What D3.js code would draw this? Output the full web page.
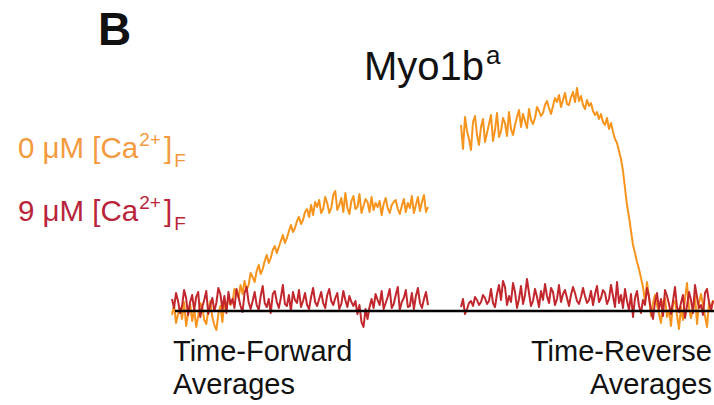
<!DOCTYPE html>
<html>
<head>
<meta charset="utf-8">
<script src="https://cdn.jsdelivr.net/npm/d3@7"></script>
<style>
  html, body { margin: 0; padding: 0; background: #fff; }
  svg { display: block; font-family: "Liberation Sans", Arial, Helvetica, sans-serif; }
</style>
</head>
<body>
<svg id="chart" width="714" height="405"></svg>
<script>
// Averaged displacement traces (nm), sampled at a fixed interval.
// Time-forward averages: aligned to the start of binding events.
const orangeFwd = [
  -0.4, 0.6, -1.2, -0.3, 0.3, -0.8, 0.9, -1.5, -0.2, 0.7,
  -1.0, 0.2, -1.6, -0.5, 0.8, 0.4, -0.9, -1.3, 0.1, 1.0,
  -0.6, -1.4, -1.9, -0.3, 0.5, -1.1, 0.9, 0.2, 1.4, 0.6,
  0.9, 2.2, 1.8, 1.3, 2.6, 1.7, 3.0, 2.1, 2.6, 3.8,
  3.4, 2.9, 4.0, 4.6, 3.7, 4.2, 5.0, 5.6, 4.8, 5.3,
  6.1, 6.5, 5.8, 6.4, 7.0, 7.6, 6.8, 7.3, 8.0, 8.6,
  7.9, 8.3, 9.0, 9.4, 8.7, 9.1, 9.9, 10.2, 9.4, 10.6,
  9.6, 10.9, 10.4, 11.1, 9.8, 10.2, 11.4, 10.8, 9.8, 10.3,
  11.6, 12.0, 10.1, 10.6, 11.3, 9.9, 11.8, 10.3, 9.7, 11.0,
  11.5, 10.2, 10.4, 11.7, 9.8, 10.5, 11.2, 10.9, 9.9, 11.4,
  10.1, 10.8, 10.4, 11.0, 9.6, 10.7, 11.3, 10.3, 9.8, 10.6,
  10.9, 11.1, 10.2, 9.7, 10.5, 11.2, 9.9, 10.8, 10.3, 11.5,
  9.8, 10.6, 11.4, 10.0, 10.9, 11.6, 9.9, 10.4
];
const redFwd = [
  1.2, 0.3, 1.8, 1.0, -0.2, 0.5, 2.1, 1.3, -0.4, 0.9,
  1.6, 0.1, 1.4, 1.9, -0.6, 0.4, 1.1, 2.0, -0.3, 0.6,
  1.3, 0.0, 0.8, 2.3, 1.7, 0.2, 1.5, -0.2, 1.9, 0.7,
  1.2, 0.3, 2.2, 1.4, 0.5, -0.1, 1.8, 2.4, 0.9, 0.2,
  1.0, 1.9, 0.6, 0.1, 1.5, 2.5, 0.8, 0.4, 1.2, -0.2,
  1.7, 2.0, 0.9, 0.3, 1.3, 2.6, 0.7, 0.5, 1.6, 0.0,
  1.9, 1.1, 0.8, 2.1, 0.4, 1.0, 1.8, 0.6, 0.2, 1.4,
  2.3, 0.9, 0.5, 1.2, 1.9, 0.8, 0.3, 1.6, 2.2, 1.0,
  0.6, 1.3, 1.8, 0.2, 0.7, 2.0, 1.1, 0.4, 1.5, 0.9,
  0.5, 1.0, -0.3, 0.6, -1.1, -1.6, 0.2, -0.8, 0.4, 1.2,
  0.3, 1.7, 1.1, 0.6, 2.0, 0.2, 0.8, 1.4, 2.2, 0.3,
  0.7, 1.6, 2.4, 0.1, 0.9, 1.3, 2.1, 0.4, 0.5, 1.8,
  0.2, 1.5, 2.3, 0.8, 0.3, 1.2, 1.9, 0.6
];
// Time-reverse averages: aligned to the end of binding events.
const orangeRev = [
  18.6, 16.2, 19.4, 18.0, 17.2, 16.1, 18.9, 19.5, 17.6, 16.6,
  18.4, 19.2, 16.9, 17.8, 18.7, 19.6, 17.0, 18.1, 19.8, 17.4,
  18.0, 19.3, 18.8, 17.5, 19.9, 18.2, 17.6, 18.6, 19.4, 20.1,
  18.4, 19.7, 19.0, 18.3, 20.2, 19.1, 18.7, 19.3, 20.4, 20.0,
  19.5, 19.8, 20.6, 21.0, 20.3, 19.7, 20.5, 21.3, 20.9, 21.6,
  20.4, 21.1, 21.8, 20.7, 20.6, 21.4, 21.9, 20.9, 22.3, 21.0,
  21.5, 20.6, 20.2, 21.1, 20.5, 20.8, 20.0, 19.6, 19.9, 19.2,
  19.7, 18.9, 18.6, 19.3, 18.2, 18.8, 17.9, 17.2, 16.8, 16.0,
  15.2, 14.0, 12.3, 10.6, 9.4, 8.0, 6.6, 5.8, 4.9, 4.2,
  3.3, 2.4, 1.0, 2.9, 1.4, -0.5, 0.8, 1.6, 0.6, -0.3,
  -1.2, 0.9, 1.3, -0.6, 0.1, -1.5, 0.7, 1.0, -0.4, -1.8,
  0.4, -0.9, 1.2, 2.8, 0.3, -0.7, 0.2, 1.5, -1.3, 0.8,
  1.7, 0.6, -0.5, -1.6, 0.9, 0.0, 1.1
];
const redRev = [
  0.4, 1.2, -0.3, 0.2, 0.8, 1.0, 0.5, 1.4, 1.1, 0.6,
  0.9, 1.6, 1.3, 0.7, 1.0, 2.2, 0.8, 0.4, 1.7, 2.6,
  1.1, 3.0, 2.4, 0.6, 1.5, 0.9, 2.8, 1.9, 0.3, 1.2,
  2.5, 0.7, 1.6, 3.2, 1.8, 0.5, 1.0, 2.2, 1.4, 0.4,
  2.0, 1.1, 2.7, 1.5, 0.8, 2.3, 1.9, 0.6, 1.2, 2.6,
  0.9, 1.7, 2.1, 1.3, 0.5, 1.6, 2.4, 1.8, 1.0, 0.7,
  1.4, 2.3, 1.5, 0.8, 1.1, 2.0, 0.6, 1.7, 2.5, 0.9,
  1.3, 2.1, 1.8, 0.7, 1.2, 2.6, 1.5, 0.4, 2.9, 0.8,
  1.6, 0.3, 2.2, 1.0, 0.1, 1.7, -0.6, 1.3, 2.0, 0.5,
  -0.2, 1.1, 0.6, 2.3, 1.4, 0.0, -0.8, 0.9, 1.8, 0.2,
  1.2, -0.5, 2.1, 1.5, 0.7, -0.3, 1.0, 2.4, 0.4, -0.1,
  0.8, 1.6, -0.7, 0.5, 1.9, 1.1, -0.2, 2.6, 1.4, 0.3,
  0.6, -0.4, 1.8, 2.2, 0.9, 0.1, 1.0
];

const seriesLabels = ["0 μM", "9 μM"];
const panelLabels = [["Time-Forward", "Averages"], ["Time-Reverse", "Averages"]];

const COLORS = { ca0: "#f7941d", ca9: "#c1272d", ca0Text: "#f49a3e", ca9Text: "#b9243a" };

const svg = d3.select("#chart");

// Scales: each half gets its own time scale, a shared displacement scale.
const xFwd = d3.scaleLinear().domain([0, orangeFwd.length - 1]).range([172, 428]);
const xRev = d3.scaleLinear().domain([0, orangeRev.length - 1]).range([461, 713]);
const y = d3.scaleLinear().domain([-2, 22]).range([331, 91]);

function trace(xs) {
  return d3.line().x((d, i) => xs(i)).y(d => y(d));
}

const traces = svg.append("g").attr("fill", "none").attr("stroke-linejoin", "round");
[[orangeFwd, xFwd, COLORS.ca0], [orangeRev, xRev, COLORS.ca0],
 [redFwd, xFwd, COLORS.ca9], [redRev, xRev, COLORS.ca9]].forEach(([data, xs, c]) => {
  traces.append("path")
    .datum(data)
    .attr("d", trace(xs))
    .attr("stroke", c)
    .attr("stroke-width", 2);
});

// Zero-displacement baseline across both halves
svg.append("line")
  .attr("x1", xFwd(0) + 3).attr("x2", 714)
  .attr("y1", y(0)).attr("y2", y(0))
  .attr("stroke", "#000").attr("stroke-width", 2.6);

// Panel letter and title
svg.append("text").attr("x", 98).attr("y", 45)
  .attr("font-size", 46).attr("font-weight", "bold").attr("fill", "#111").text("B");

const title = svg.append("text").attr("x", 364).attr("y", 80).attr("font-size", 40).attr("fill", "#111");
title.append("tspan").text("Myo1b");
title.append("tspan").attr("font-size", 26).attr("dy", -16).attr("dx", 2).text("a");

// Legend text: concentration with free-calcium notation
function legendEntry(label, yBase, color) {
  const t = svg.append("text").attr("x", 18).attr("y", yBase).attr("font-size", 29.5).attr("fill", color);
  t.append("tspan").text(label + " [Ca");
  t.append("tspan").attr("font-size", 19).attr("dy", -12).attr("dx", 1).text("2+");
  t.append("tspan").attr("dy", 12).attr("dx", 3).text("]");
  t.append("tspan").attr("font-size", 19).attr("dy", 9).attr("dx", 2).text("F");
}
legendEntry(seriesLabels[0], 158, COLORS.ca0Text);
legendEntry(seriesLabels[1], 221, COLORS.ca9Text);

// Labels under each half
const lab = svg.append("g").attr("font-size", 29).attr("fill", "#111");
panelLabels[0].forEach((s, i) => lab.append("text").attr("x", 173).attr("y", 361 + i * 33).text(s));
panelLabels[1].forEach((s, i) => lab.append("text").attr("x", 712).attr("y", 361 + i * 33)
  .attr("text-anchor", "end").text(s));
</script>
</body>
</html>
